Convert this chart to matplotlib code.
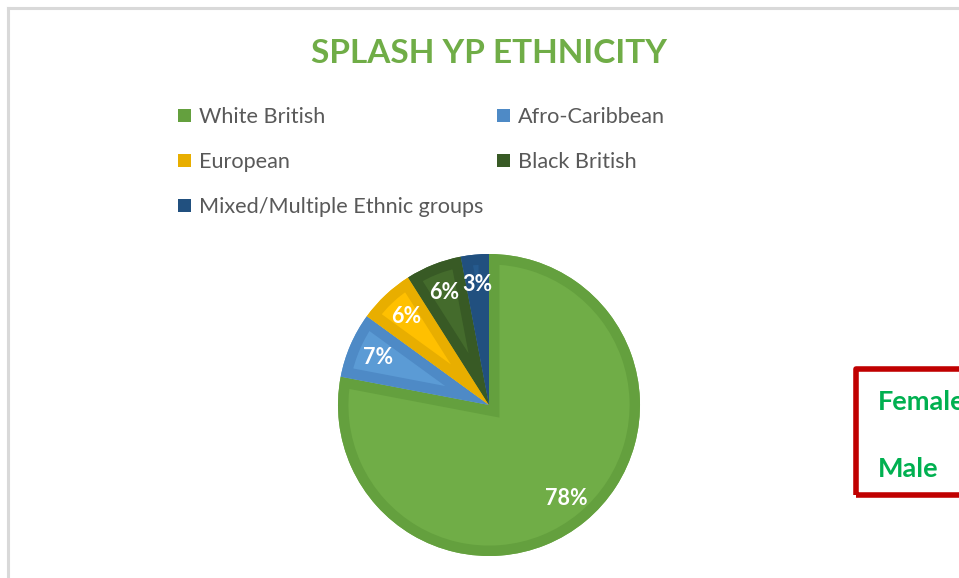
import matplotlib
matplotlib.use("Agg")
import matplotlib.pyplot as plt
from matplotlib.patches import Rectangle, Wedge
from matplotlib.lines import Line2D

plt.rcParams['font.family'] = ['Lato', 'DejaVu Sans']

# ---- data ----
title = "SPLASH YP ETHNICITY"
categories = ["White British", "Afro-Caribbean", "European", "Black British",
              "Mixed/Multiple Ethnic groups"]
values = [78, 7, 6, 6, 3]
fill_colors = ["#70AD47", "#5B9BD5", "#FFC000", "#446B2C", "#255A8E"]
edge_colors = ["#64A03E", "#4E8AC6", "#E8AE00", "#385A25", "#21507F"]
side_labels = ["Female", "Male"]

W, H = 959, 578
fig = plt.figure(figsize=(W / 100, H / 100), dpi=100)
fig.patch.set_facecolor("white")

def fx(px):
    return px / W

def fy(py):
    return 1 - py / H

# outer light-gray frame (top and left edges visible)
fig.add_artist(Line2D([fx(8), fx(958)], [fy(8), fy(8)], color="#D9D9D9", lw=2.2,
                      transform=fig.transFigure))
fig.add_artist(Line2D([fx(8), fx(8)], [fy(8), fy(578)], color="#D9D9D9", lw=2.2,
                      transform=fig.transFigure))

# title
fig.text(fx(489), fy(63), title, ha="center", va="baseline", fontsize=24,
         fontweight="bold", color="#70AD47")

# legend (two columns)
col_x = [178, 497]
row_base = [123, 168, 213]
for i, (lab, col) in enumerate(zip(categories, edge_colors)):
    r, c = divmod(i, 2)
    x0 = col_x[c]
    yb = row_base[r]
    fig.add_artist(Rectangle((fx(x0), fy(yb - 1)), 13 / W, 13 / H, facecolor=col,
                             edgecolor="none", transform=fig.transFigure))
    fig.text(fx(x0 + 21), fy(yb), lab, ha="left", va="baseline", fontsize=15.6,
             color="#595959")

# pie
cx, cy, R = 489, 405, 151
ax = fig.add_axes([fx(cx - R), fy(cy + R), 2 * R / W, 2 * R / H])
wedges, texts, autotexts = ax.pie(
    values, colors=fill_colors, startangle=90, counterclock=False,
    autopct=lambda p: f"{p:.0f}%", pctdistance=0.8, radius=1,
    textprops=dict(color="white", fontsize=15.5, fontweight="bold"))
for w, ec in zip(wedges, edge_colors):
    w.set_edgecolor("none")
    # darker inner band along the slice outline, clipped to the slice
    band = Wedge(w.center, w.r, w.theta1, w.theta2, facecolor="none",
                 edgecolor=ec, linewidth=15, joinstyle="miter", zorder=w.zorder + 0.1)
    ax.add_patch(band)
    clip = Wedge(w.center, w.r, w.theta1, w.theta2, transform=ax.transData)
    band.set_clip_path(clip)
for t in autotexts:
    t.set_zorder(5)
ax.set_xlim(-1, 1)
ax.set_ylim(-1, 1)
ax.set_aspect("equal")
ax.axis("off")

# red box with Female / Male
fig.add_artist(Rectangle((fx(855.5), fy(495)), (1000 - 855.5) / W, (495 - 369) / H,
                         facecolor="none", edgecolor="#C00000", lw=4,
                         joinstyle="round", transform=fig.transFigure))
for lab, yb in zip(side_labels, [410, 477]):
    fig.text(fx(878), fy(yb), lab, ha="left", va="baseline", fontsize=19.5,
             fontweight="bold", color="#00B050")

fig.savefig("out.png", dpi=100)
